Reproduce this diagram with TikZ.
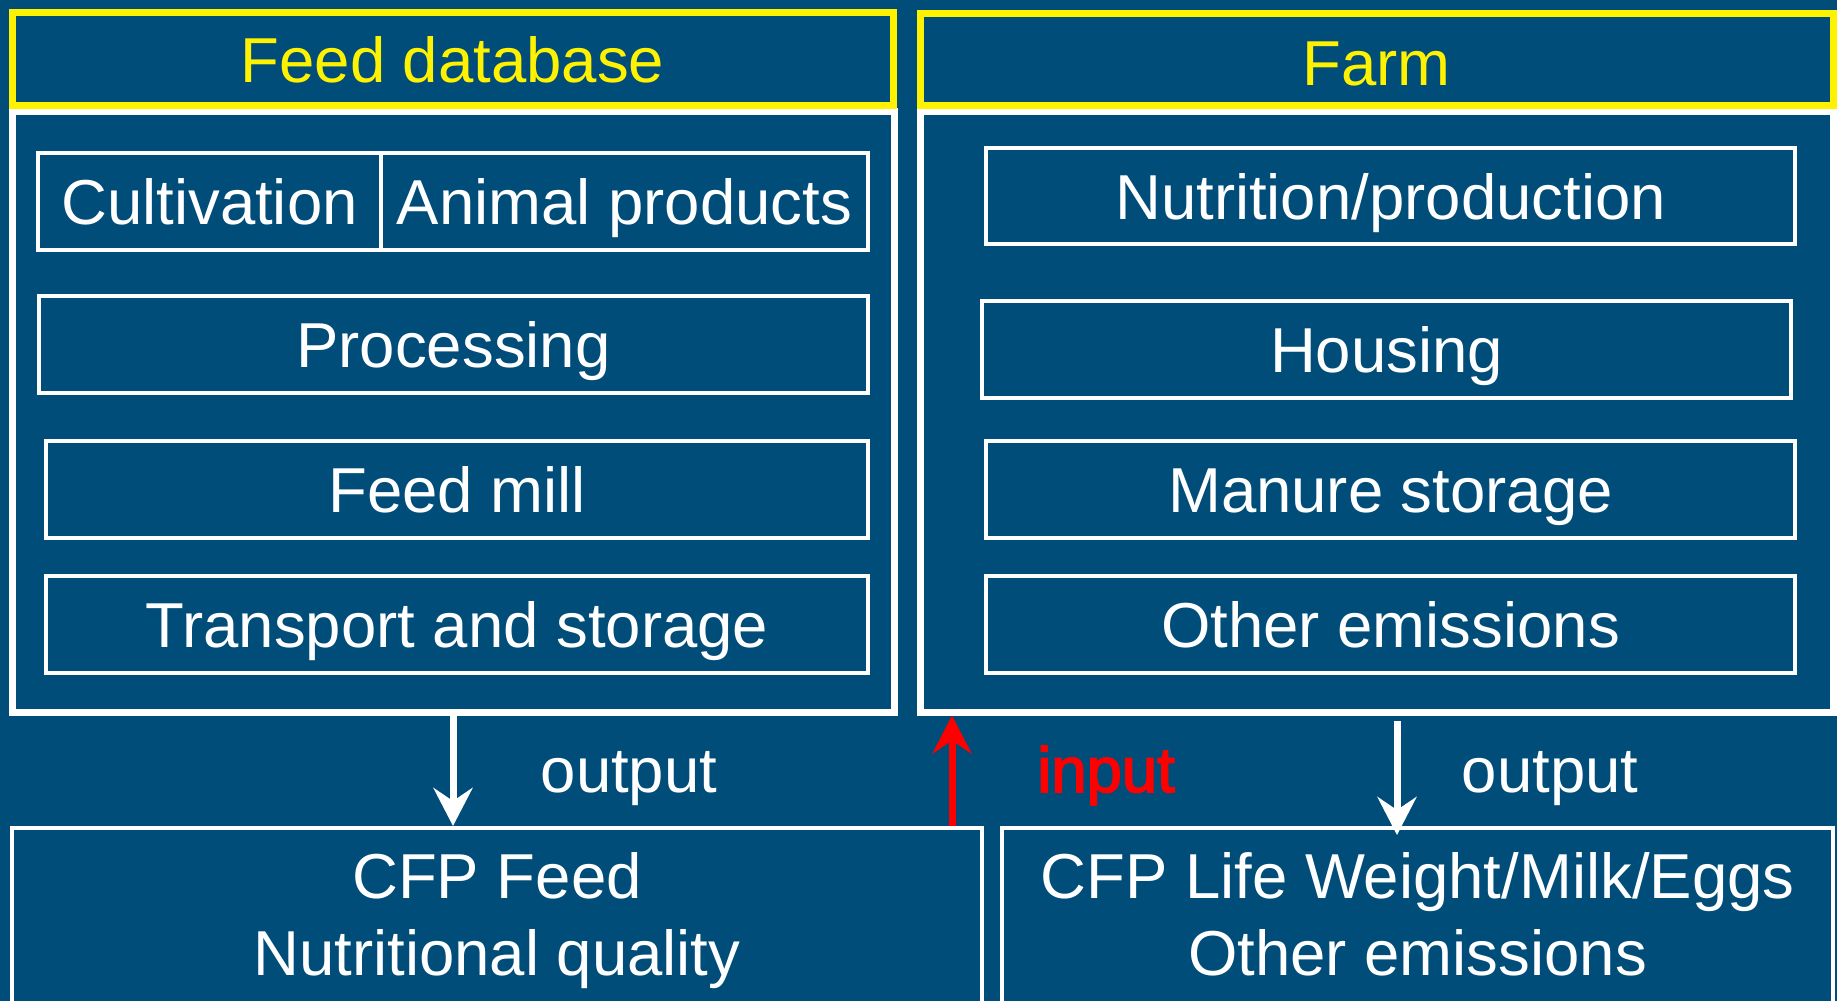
\documentclass[tikz,border=0pt]{standalone}
\usepackage{fontspec}
\setmainfont{Liberation Sans}
\newfontfamily\heavyfont[FakeBold=2.5]{Liberation Sans}
\usetikzlibrary{arrows.meta}
\definecolor{bgblue}{RGB}{1,77,121}
\begin{document}
\begin{tikzpicture}[x=1pt,y=-1pt,
  every node/.style={font=\fontsize{63.5}{77}\selectfont, text=white, inner sep=0pt},
  header/.style={rectangle, draw=yellow, line width=7pt, text=yellow, text depth=0pt},
  panel/.style={rectangle, draw=white, line width=7pt},
  stage/.style={rectangle, draw=white, line width=4pt, text height=46pt, text depth=0pt},
  result/.style={rectangle, draw=white, line width=4pt},
  flow/.style={line width=7pt, -{Stealth[length=38pt,width=39pt,inset=13pt]}},
  flowlabel/.style={anchor=base},
]
% background
\fill[bgblue] (0,0) rectangle (1837,1001);
\useasboundingbox (0,0) rectangle (1837,1001);

% feed database column
\node[panel, minimum width=882pt, minimum height=601pt] (fdb) at (453,411.5) {};
\node[header, text height=47pt, minimum width=881pt, minimum height=93pt] (fdbhead) at (452.5,58.5) {Feed database};
\node[stage, minimum width=343pt, minimum height=97pt] (cult) at (209.5,201.5) {Cultivation};
\node[stage, minimum width=487pt, minimum height=97pt] (animal) at (624.5,201.5) {Animal products};
\node[stage, minimum width=829pt, minimum height=97pt] (proc) at (453.5,344.5) {Processing};
\node[stage, minimum width=822pt, minimum height=97pt] (mill) at (457,489.5) {Feed mill};
\node[stage, minimum width=822pt, minimum height=97pt] (trans) at (457,624.5) {Transport and storage};

% farm column
\node[panel, minimum width=913pt, minimum height=601pt] (farm) at (1376.5,411.5) {};
\node[header, text height=52pt, minimum width=913pt, minimum height=92pt] (farmhead) at (1376.5,59) {Farm};
\node[stage, minimum width=809pt, minimum height=96pt] (nutr) at (1390.5,196) {Nutrition/production};
\node[stage, minimum width=809pt, minimum height=97pt] (hous) at (1386.5,349.5) {Housing};
\node[stage, minimum width=809pt, minimum height=97pt] (manure) at (1390.5,489.5) {Manure storage};
\node[stage, minimum width=809pt, minimum height=97pt] (other) at (1390.5,624.5) {Other emissions};

% results
\node[result, minimum width=970pt, minimum height=192pt] (cfpfeed) at (497,924) {};
\node[result, minimum width=831pt, minimum height=192pt] (cfplife) at (1417.5,924) {};
\node[anchor=north, align=center] (cfpfeedtxt) at (497,852) {CFP Feed\\Nutritional quality};
\node[anchor=north, align=center] (cfplifetxt) at (1417.5,852) {CFP Life Weight/Milk/Eggs\\Other emissions};

% connectors
\coordinate (inx) at (952,0);
\coordinate (outx) at (1397,0);
\draw[flow, white] (fdb.south) -- (fdb.south |- cfpfeed.north);
\draw[flow, red] (inx |- cfpfeed.north) -- (inx |- farm.south);
\draw[flow, white, shorten <=5.5pt, shorten >=-9pt] (outx |- farm.south) -- (outx |- cfplife.north);

% connector labels
\node[flowlabel] (outfeed) at (629,792) {output};
\node[flowlabel, text=red, font=\heavyfont\fontsize{63.5}{77}\selectfont] (infarm) at (1106,792) {input};
\node[flowlabel] (outfarm) at (1550,792) {output};
\end{tikzpicture}
\end{document}
